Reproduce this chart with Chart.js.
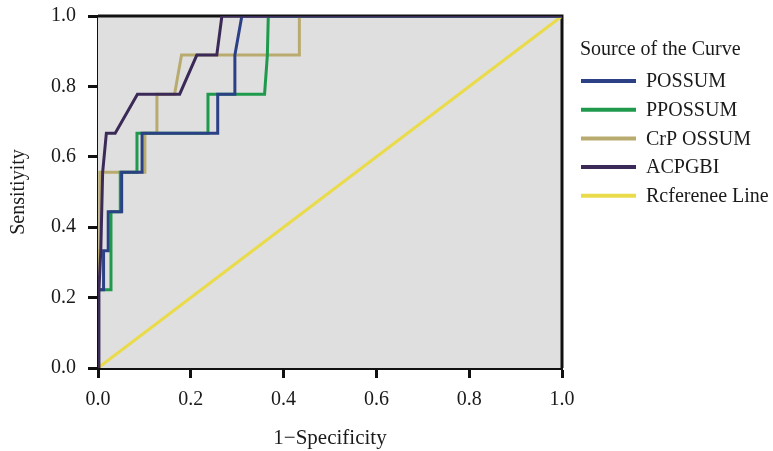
<!DOCTYPE html>
<html>
<head>
<meta charset="utf-8">
<script src="https://cdn.jsdelivr.net/npm/chart.js@4/dist/chart.umd.min.js"></script>
<style>
  html, body { margin: 0; padding: 0; background: #ffffff; }
  #wrap { width: 773px; height: 451px; position: relative; }
</style>
</head>
<body>
<div id="wrap"><canvas id="c" width="773" height="451"></canvas></div>
<script>
// ---- data ----
const tickLabels = ['0.0', '0.2', '0.4', '0.6', '0.8', '1.0'];

const possumX = [0, 0, 0.012, 0.012, 0.022, 0.022, 0.051, 0.051, 0.095, 0.095, 0.258, 0.258, 0.295, 0.295, 0.31, 1];
const possumY = [0, 0.222, 0.222, 0.333, 0.333, 0.444, 0.444, 0.556, 0.556, 0.667, 0.667, 0.778, 0.778, 0.889, 1, 1];

const ppossumX = [0, 0, 0.028, 0.028, 0.048, 0.048, 0.084, 0.084, 0.237, 0.237, 0.359, 0.365, 0.367, 1];
const ppossumY = [0, 0.222, 0.222, 0.444, 0.444, 0.556, 0.556, 0.667, 0.667, 0.778, 0.778, 0.889, 1, 1];

const crpX = [0, 0, 0.004, 0.004, 0.101, 0.101, 0.127, 0.127, 0.165, 0.18, 0.434, 0.434, 1];
const crpY = [0, 0.333, 0.333, 0.556, 0.556, 0.667, 0.667, 0.778, 0.778, 0.889, 0.889, 1, 1];

const acpgbiX = [0, 0.002, 0.006, 0.01, 0.018, 0.037, 0.085, 0.176, 0.213, 0.256, 0.267, 1];
const acpgbiY = [0, 0.222, 0.333, 0.556, 0.667, 0.667, 0.778, 0.778, 0.889, 0.889, 1, 1];

const refX = [0, 1];
const refY = [0, 1];

const seriesNames = ['POSSUM', 'PPOSSUM', 'CrP OSSUM', 'ACPGBI', 'Rcferenee Line'];
const seriesColors = ['#2c4185', '#1f9a4c', '#b9ab6f', '#3b2a58', '#eadb4a'];
const legendTitle = 'Source of the Curve';
const xTitle = '1\u2212Specificity';
const yTitle = 'Sensitiyity';

function pts(xs, ys) { return xs.map((x, i) => ({ x: x, y: ys[i] })); }

const SERIF = "'Liberation Serif', 'DejaVu Serif', serif";

// datasets: first one is drawn on top
const datasets = [
  { label: seriesNames[3], data: pts(acpgbiX, acpgbiY), borderColor: seriesColors[3], borderWidth: 3 },
  { label: seriesNames[0], data: pts(possumX, possumY), borderColor: seriesColors[0], borderWidth: 3 },
  { label: seriesNames[1], data: pts(ppossumX, ppossumY), borderColor: seriesColors[1], borderWidth: 3 },
  { label: seriesNames[2], data: pts(crpX, crpY), borderColor: seriesColors[2], borderWidth: 3 },
  { label: seriesNames[4], data: pts(refX, refY), borderColor: seriesColors[4], borderWidth: 3 }
].map(d => Object.assign(d, { pointRadius: 0, pointHoverRadius: 0, tension: 0, fill: false }));

const plotBg = {
  id: 'plotBg',
  beforeDatasetsDraw(chart) {
    const { ctx, chartArea: a } = chart;
    ctx.save();
    ctx.fillStyle = '#dfdfdf';
    ctx.fillRect(a.left, a.top, a.right - a.left, a.bottom - a.top);
    ctx.strokeStyle = '#111';
    ctx.lineWidth = 3;
    ctx.beginPath();
    ctx.moveTo(a.left, a.top); ctx.lineTo(a.right, a.top); ctx.lineTo(a.right, a.bottom);
    ctx.stroke();
    ctx.restore();
  }
};

const customLegend = {
  id: 'customLegend',
  afterDraw(chart) {
    const { ctx } = chart;
    ctx.save();
    ctx.fillStyle = '#1a1a1a';
    ctx.textBaseline = 'middle';
    ctx.textAlign = 'left';
    ctx.font = '20px ' + SERIF;
    ctx.fillText(legendTitle, 580, 50);
    seriesNames.forEach((name, i) => {
      const y = 81 + i * 28.7;
      ctx.strokeStyle = seriesColors[i];
      ctx.lineWidth = 4;
      ctx.beginPath();
      ctx.moveTo(581, y); ctx.lineTo(636, y);
      ctx.stroke();
      ctx.fillStyle = '#1a1a1a';
      ctx.fillText(name, 646, y + 1);
    });
    ctx.restore();
  }
};

const axisCommon = {
  type: 'linear',
  min: 0, max: 1,
  border: { display: true, color: '#111', width: 3 },
  grid: { display: true, drawOnChartArea: false, drawTicks: true, tickLength: 10, tickWidth: 3, tickColor: '#111' },
};

new Chart(document.getElementById('c'), {
  type: 'line',
  data: { datasets: datasets },
  options: {
    responsive: false,
    animation: false,
    events: [],
    layout: { padding: { top: 16, right: 211, bottom: 0, left: 0 } },
    plugins: { legend: { display: false }, tooltip: { enabled: false } },
    scales: {
      x: Object.assign({}, axisCommon, {
        position: 'bottom',
        ticks: {
          stepSize: 0.2, padding: 10, color: '#1a1a1a', maxRotation: 0,
          font: { family: SERIF, size: 20 },
          callback: (v, i) => tickLabels[i]
        },
        title: { display: true, text: xTitle, color: '#1a1a1a', font: { family: SERIF, size: 21 }, padding: { top: 0, bottom: 0 } },
        afterFit: (s) => { s.height = 451 - 368; s.paddingLeft = 0; s.paddingRight = 0; }
      }),
      y: Object.assign({}, axisCommon, {
        position: 'left',
        ticks: {
          stepSize: 0.2, padding: 12, color: '#1a1a1a',
          font: { family: SERIF, size: 20 },
          callback: (v, i) => tickLabels[i]
        },
        title: { display: true, text: yTitle, color: '#1a1a1a', font: { family: SERIF, size: 20 }, padding: { top: 7, bottom: 0 } },
        afterFit: (s) => { s.width = 98; s.paddingTop = 0; s.paddingBottom = 0; }
      })
    }
  },
  plugins: [plotBg, customLegend]
});
</script>
</body>
</html>
